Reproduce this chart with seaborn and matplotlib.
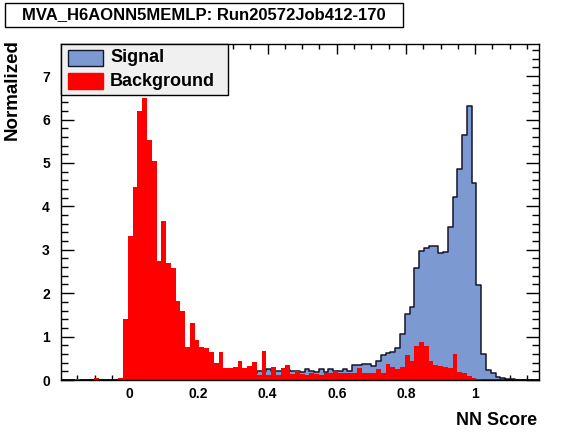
import numpy as np
import pandas as pd
import seaborn as sns
import matplotlib.pyplot as plt
from matplotlib.patches import Rectangle
from matplotlib.ticker import MultipleLocator

# 100 bins across the plotted NN score range
bin_lo = -0.197
bin_hi = 1.183
n_bins = 100

signal = [0, 0, 0, 0, 0, 0, 0, 0, 0, 0,
          0, 0, 0, 0, 0, 0, 0, 0, 0, 0,
          0, 0, 0, 0, 0, 0, 0.05, 0.06, 0.08, 0.07,
          0.10, 0.09, 0.10, 0.12, 0.10, 0.12, 0.13, 0.12, 0.15, 0.14,
          0.16, 0.21, 0.20, 0.25, 0.20, 0.21, 0.20, 0.22, 0.21, 0.20,
          0.18, 0.25, 0.21, 0.18, 0.25, 0.18, 0.25, 0.21, 0.21, 0.25,
          0.21, 0.35, 0.35, 0.37, 0.38, 0.32, 0.43, 0.58, 0.62, 0.64,
          0.74, 1.05, 1.52, 1.68, 2.59, 2.98, 3.05, 3.09, 3.09, 2.92,
          2.95, 3.53, 4.21, 4.86, 5.64, 6.31, 4.53, 2.19, 0.61, 0.22,
          0.15, 0.06, 0.05, 0.02, 0.02, 0, 0, 0, 0, 0]

background = [0, 0.01, 0, 0.02, 0, 0, 0.01, 0.05, 0, 0,
              0, 0.01, 0.05, 1.41, 3.31, 4.44, 6.19, 6.49, 5.53, 5.04,
              2.73, 3.67, 2.69, 2.58, 1.81, 1.58, 0.76, 1.32, 0.93, 0.76,
              0.73, 0.64, 0.39, 0.65, 0.28, 0.27, 0.30, 0.44, 0.27, 0.32,
              0.41, 0.12, 0.67, 0.12, 0.30, 0.12, 0.28, 0.35, 0.14, 0.21,
              0.14, 0.12, 0.17, 0.14, 0.12, 0.17, 0.17, 0.20, 0.15, 0.17,
              0.17, 0.17, 0.28, 0.17, 0.17, 0.15, 0.25, 0.15, 0.37, 0.29,
              0.26, 0.31, 0.57, 0.44, 0.78, 0.87, 0.78, 0.44, 0.35, 0.33,
              0.29, 0.28, 0.60, 0.18, 0.15, 0.09, 0.04, 0.02, 0.01, 0,
              0, 0, 0, 0, 0, 0, 0, 0, 0, 0]

title_text = "MVA_H6AONN5MEMLP: Run20572Job412-170"
legend_labels = ["Signal", "Background"]
sig_color = "#7d99d1"
bkg_color = "#ff0000"

sns.set_style("ticks")
plt.rcParams['font.family'] = ['Liberation Sans', 'DejaVu Sans']
plt.rcParams['font.weight'] = 'bold'
plt.rcParams['text.color'] = 'black'
plt.rcParams['axes.labelcolor'] = 'black'
plt.rcParams['xtick.color'] = 'black'
plt.rcParams['ytick.color'] = 'black'

W, H = 567, 432
fig = plt.figure(figsize=(W / 100, H / 100), dpi=100)

def fx(px):
    return px / W

def fy(py):
    return 1 - py / H

ax = fig.add_axes([fx(61), fy(380), fx(538.5) - fx(61), fy(44) - fy(380)])

edges = np.linspace(bin_lo, bin_hi, n_bins + 1)
centers = 0.5 * (edges[:-1] + edges[1:])
sig_df = pd.DataFrame({"score": centers, "w": signal})
bkg_df = pd.DataFrame({"score": centers, "w": background})

sns.histplot(data=sig_df, x="score", weights="w", bins=n_bins,
             binrange=(bin_lo, bin_hi), element="step",
             fill=True, color=sig_color, edgecolor="#15152a", linewidth=1.1,
             alpha=1, ax=ax)
sns.histplot(data=bkg_df, x="score", weights="w", bins=n_bins,
             binrange=(bin_lo, bin_hi), element="step",
             fill=True, color=bkg_color, linewidth=0, alpha=1, ax=ax)

ax.set_xlim(bin_lo, bin_hi)
ax.set_ylim(0, 7.74)

ax.xaxis.set_major_locator(MultipleLocator(0.2))
ax.xaxis.set_minor_locator(MultipleLocator(0.05))
ax.yaxis.set_major_locator(MultipleLocator(1))
ax.yaxis.set_minor_locator(MultipleLocator(0.2))
ax.xaxis.set_major_formatter(plt.FuncFormatter(lambda v, p: "%g" % round(v, 2)))

ax.tick_params(axis="both", which="both", direction="in", top=True, right=True,
               width=1, color="black", labelcolor="black", labelsize=10)
ax.tick_params(axis="x", which="major", length=7.5, pad=5)
ax.tick_params(axis="x", which="minor", length=3.6)
ax.tick_params(axis="y", which="major", length=9.5, pad=8)
ax.tick_params(axis="y", which="minor", length=5)
for lab in ax.get_xticklabels() + ax.get_yticklabels():
    lab.set_fontweight("bold")
for s in ax.spines.values():
    s.set_linewidth(1)
    s.set_color("black")

ax.set_xlabel("NN Score", fontsize=13, fontweight="bold", loc="right", color="black")
ax.set_ylabel("Normalized", fontsize=13.5, fontweight="bold", loc="top", color="black")
ax.xaxis.set_label_coords(0.998, -0.095)
ax.yaxis.set_label_coords(-0.085, 1.014)

# title box
fig.add_artist(Rectangle((fx(5), fy(27)), fx(403) - fx(5), fy(3) - fy(27),
                         transform=fig.transFigure, facecolor="white",
                         edgecolor="black", linewidth=1))
fig.text(fx(204), fy(15), title_text, ha="center", va="center",
         fontsize=12, fontweight="bold", color="black")

# legend box
fig.add_artist(Rectangle((fx(61), fy(95)), fx(228) - fx(61), fy(44) - fy(95),
                         transform=fig.transFigure, facecolor="#f0f0f0",
                         edgecolor="black", linewidth=1, zorder=5))
fig.add_artist(Rectangle((fx(68), fy(66)), fx(103) - fx(68), fy(50) - fy(66),
                         transform=fig.transFigure, facecolor=sig_color,
                         edgecolor="#15152a", linewidth=1, zorder=6))
fig.add_artist(Rectangle((fx(68), fy(89)), fx(103) - fx(68), fy(73) - fy(89),
                         transform=fig.transFigure, facecolor=bkg_color,
                         edgecolor=bkg_color, linewidth=1, zorder=6))
fig.text(fx(110), fy(57), legend_labels[0], ha="left", va="center",
         fontsize=13, fontweight="bold", color="black", zorder=7)
fig.text(fx(110), fy(81), legend_labels[1], ha="left", va="center",
         fontsize=13, fontweight="bold", color="black", zorder=7)

fig.savefig("out.png", dpi=100)
